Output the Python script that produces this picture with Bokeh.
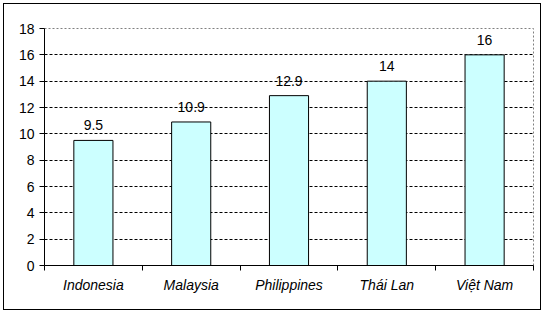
from bokeh.plotting import figure
from bokeh.models import FixedTicker, ColumnDataSource, Range1d, LabelSet
from bokeh.core.properties import value
from bokeh.embed import file_html
from bokeh.resources import INLINE

countries = ["Indonesia", "Malaysia", "Philippines", "Thái Lan", "Việt Nam"]
values = [9.5, 10.9, 12.9, 14, 16]
value_labels = ["9.5", "10.9", "12.9", "14", "16"]
y_ticks = [0, 2, 4, 6, 8, 10, 12, 14, 16, 18]

xs = [i + 0.5 for i in range(len(countries))]
src = ColumnDataSource(dict(x=xs, top=values, lbl=value_labels))

FONT = "Liberation Sans"
FS = "14px"

p = figure(width=544, height=314, output_backend="svg", toolbar_location=None,
           x_range=Range1d(0, len(countries)), y_range=Range1d(0, 18),
           min_border_left=44, min_border_right=11, min_border_top=28, min_border_bottom=49)

p.vbar(x="x", top="top", width=0.4, source=src, fill_color="#CCFFFF",
       line_color="black", line_width=1)

labels = LabelSet(x="x", y="top", text="lbl", source=src, text_align="center",
                  text_baseline="bottom", y_offset=10, text_font=value(FONT),
                  text_font_size=FS, text_color="black")
p.add_layout(labels)

# axes
p.xaxis.ticker = FixedTicker(ticks=xs, minor_ticks=list(range(len(countries) + 1)))
p.xaxis.major_label_overrides = {x: c for x, c in zip(xs, countries)}
p.xaxis.major_tick_out = 0
p.xaxis.major_tick_in = 0
p.xaxis.minor_tick_out = 5
p.xaxis.minor_tick_in = 0
p.xaxis.minor_tick_line_color = "black"
p.xaxis.axis_line_color = "black"
p.xaxis.major_label_text_font = FONT
p.xaxis.major_label_text_font_style = "italic"
p.xaxis.major_label_text_font_size = FS
p.xaxis.major_label_text_color = "black"
p.xaxis.major_label_standoff = 6

p.yaxis.ticker = FixedTicker(ticks=y_ticks, minor_ticks=[])
p.yaxis.major_tick_out = 5
p.yaxis.major_tick_in = 0
p.yaxis.major_tick_line_color = "black"
p.yaxis.axis_line_color = "black"
p.yaxis.major_label_text_font = FONT
p.yaxis.major_label_text_font_size = FS
p.yaxis.major_label_text_color = "black"
p.yaxis.major_label_standoff = 5

p.xgrid.grid_line_color = None
p.ygrid.ticker = FixedTicker(ticks=y_ticks[1:])
p.ygrid.grid_line_color = "black"
p.ygrid.grid_line_dash = "3 2"
p.ygrid.grid_line_width = 1

p.outline_line_color = "#808080"
p.outline_line_dash = "2 2"
p.outline_line_width = 1

p.background_fill_color = "white"
p.border_fill_color = "white"

# outer chart border
p.stylesheets = [
    ":host { position: relative; }"
    ":host::after { content: ''; position: absolute; left: 3px; top: 3px;"
    " width: 538px; height: 307px; border: 1px solid black; box-sizing: border-box;"
    " pointer-events: none; z-index: 10; }"
]

open("out.html", "w").write(file_html(p, INLINE))
